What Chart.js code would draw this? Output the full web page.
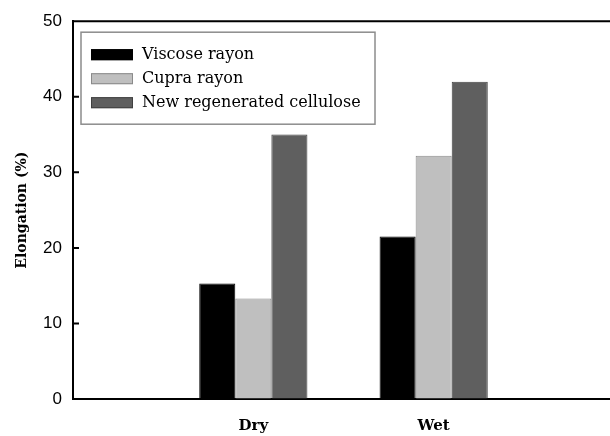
<!DOCTYPE html>
<html>
<head>
<meta charset="utf-8">
<script src="https://cdn.jsdelivr.net/npm/chart.js@4.4.1/dist/chart.umd.min.js"></script>
<style>
    html, body { margin: 0; padding: 0; background: #fff; overflow: hidden; }
    #wrap { width: 632px; height: 436px; }
</style>
</head>
<body>
<div id="wrap"><canvas id="elongationChart" width="632" height="436"></canvas></div>
<script>
// categories (blank slots at both ends keep Dry/Wet at 1/3 and 2/3 of the axis)
const categories = ['', 'Dry', 'Wet', ''];
const seriesNames = ['Viscose rayon', 'Cupra rayon', 'New regenerated cellulose'];
const viscose = [null, 15.3, 21.5, null];
const cupra = [null, 13.3, 32.2, null];
const newCellulose = [null, 35.0, 42.0, null];
const yTicks = [0, 10, 20, 30, 40, 50];

const fills = ['#000000', '#bfbfbf', '#5f5f5f'];
const borders = ['#000000', '#8a8a8a', '#404040'];

// inward tick marks on the y axis, plus the top frame line
const framePlugin = {
    id: 'frame',
    afterDraw(chart) {
        const ctx = chart.ctx;
        const area = chart.chartArea;
        const y = chart.scales.y;
        ctx.save();
        ctx.strokeStyle = '#000';
        ctx.lineWidth = 2;
        ctx.beginPath();
        ctx.moveTo(area.left - 1, area.top);
        ctx.lineTo(area.right, area.top);
        y.ticks.forEach(t => {
            const py = y.getPixelForValue(t.value);
            ctx.moveTo(area.left, py);
            ctx.lineTo(area.left + 6, py);
        });
        ctx.stroke();
        ctx.restore();
    }
};

// legend box drawn inside the plot area, top-left
const insideLegend = {
    id: 'insideLegend',
    afterDraw(chart) {
        const ctx = chart.ctx;
        const area = chart.chartArea;
        const x0 = area.left + 8, y0 = area.top + 11;
        ctx.save();
        ctx.strokeStyle = '#8c8c8c';
        ctx.lineWidth = 1.5;
        ctx.strokeRect(x0, y0, 294, 92);
        ctx.font = '16px "DejaVu Serif"';
        ctx.textBaseline = 'middle';
        chart.data.datasets.forEach((ds, i) => {
            const cy = y0 + 22 + i * 24;
            ctx.fillStyle = ds.backgroundColor;
            ctx.strokeStyle = ds.borderColor;
            ctx.lineWidth = 1;
            ctx.fillRect(x0 + 10, cy - 5, 42, 11);
            ctx.strokeRect(x0 + 10.5, cy - 4.5, 41, 10);
            ctx.fillStyle = '#000';
            ctx.fillText(ds.label, x0 + 61, cy + 1);
        });
        ctx.restore();
    }
};

new Chart(document.getElementById('elongationChart'), {
    type: 'bar',
    data: {
        labels: categories,
        datasets: [viscose, cupra, newCellulose].map((d, i) => ({
            label: seriesNames[i],
            data: d,
            backgroundColor: fills[i],
            borderColor: borders[i],
            borderWidth: 1,
            categoryPercentage: 0.6,
            barPercentage: 1
        }))
    },
    options: {
        responsive: false,
        animation: false,
        layout: { padding: { top: 21, left: 0, right: 0, bottom: 0 } },
        plugins: { legend: { display: false }, tooltip: { enabled: false } },
        scales: {
            x: {
                offset: false,
                grid: { display: true, drawOnChartArea: false, drawTicks: false },
                border: { display: true, color: '#000', width: 2 },
                ticks: {
                    color: '#000',
                    padding: 18,
                    maxRotation: 0,
                    autoSkip: false,
                    font: { family: '"DejaVu Serif"', size: 15, weight: 'bold' }
                },
                afterFit: s => { s.height = 37; }
            },
            y: {
                min: 0,
                max: 50,
                afterBuildTicks: s => { s.ticks = yTicks.map(v => ({ value: v })); },
                grid: { display: true, drawOnChartArea: false, drawTicks: false },
                border: { display: true, color: '#000', width: 2 },
                ticks: {
                    color: '#000',
                    padding: 11,
                    font: { family: '"Liberation Sans"', size: 17 }
                },
                title: {
                    display: true,
                    text: 'Elongation (%)',
                    color: '#000',
                    padding: { top: 14, bottom: 0 },
                    font: { family: '"DejaVu Serif"', size: 14, weight: 'bold' }
                },
                afterFit: s => { s.width = 73; }
            }
        }
    },
    plugins: [framePlugin, insideLegend]
});
</script>
</body>
</html>
